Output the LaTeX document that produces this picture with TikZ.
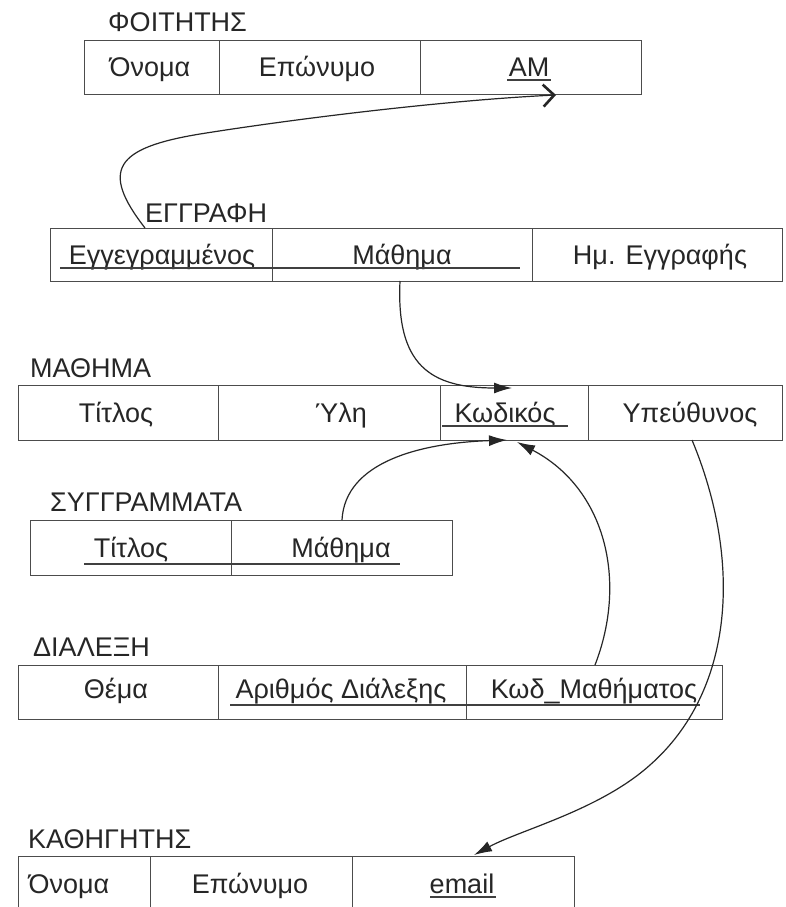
\documentclass[tikz,border=0pt]{standalone}
\usepackage{fontspec}
\setmainfont{Liberation Sans}
\usetikzlibrary{arrows.meta}
\begin{document}
\begin{tikzpicture}[x=1pt,y=-1pt,
  cell/.style={draw=black!70, line width=1.3pt, rectangle, inner sep=0pt, anchor=north west},
  txt/.style={anchor=base, inner sep=0pt, text=black!85, font=\fontsize{27}{32}\selectfont},
  lbl/.style={anchor=base west, inner sep=0pt, text=black!85, font=\fontsize{27}{32}\selectfont},
  uline/.style={draw=black!75, line width=1.3pt},
  link/.style={draw=black!85, line width=1.2pt},
  fk/.style={link, -{Latex[length=18pt,width=11pt]}},
  fkopen/.style={link, -{Straight Barb[length=11pt,width=22pt,line width=2.6pt]}}]
\useasboundingbox (0,0) rectangle (786,907);
\clip (0,0) rectangle (786,907);
\fill[white] (0,0) rectangle (786,907);

% ---------------- ΦΟΙΤΗΤΗΣ
\node[lbl] (lf) at (108,32) {ΦΟΙΤΗΤΗΣ};
\node[cell, minimum width=135pt, minimum height=54pt] (f1) at (84,40) {};
\node[cell, minimum width=201pt, minimum height=54pt] (f2) at (219,40) {};
\node[cell, minimum width=221pt, minimum height=54pt] (f3) at (420,40) {};
\node[txt] (tf1) at (150,76) {Όνομα};
\node[txt] (tf2) at (317,76) {Επώνυμο};
\node[txt] (tf3) at (529,76) {ΑΜ};
\draw[uline] (507,80) -- (551,80);

% ---------------- ΕΓΓΡΑΦΗ
\node[lbl] (le) at (145,222) {ΕΓΓΡΑΦΗ};
\node[cell, minimum width=222pt, minimum height=53pt] (e1) at (50,228) {};
\node[cell, minimum width=260pt, minimum height=53pt] (e2) at (272,228) {};
\node[cell, minimum width=250pt, minimum height=53pt] (e3) at (532,228) {};
\node[txt] (te1) at (162,264) {Εγγεγραμμένος};
\node[txt] (te2) at (402,264) {Μάθημα};
\node[txt] (te3) at (660,264) {Ημ. Εγγραφής};
\draw[uline] (60,268) -- (520,268);

% ---------------- ΜΑΘΗΜΑ
\node[lbl] (lm) at (30,377) {ΜΑΘΗΜΑ};
\node[cell, minimum width=200pt, minimum height=55pt] (m1) at (18,385) {};
\node[cell, minimum width=222pt, minimum height=55pt] (m2) at (218,385) {};
\node[cell, minimum width=148pt, minimum height=55pt] (m3) at (440,385) {};
\node[cell, minimum width=194pt, minimum height=55pt] (m4) at (588,385) {};
\node[txt] (tm1) at (116,422) {Τίτλος};
\node[txt] (tm2) at (341,422) {Ύλη};
\node[txt] (tm3) at (505,422) {Κωδικός};
\node[txt] (tm4) at (690,422) {Υπεύθυνος};
\draw[uline] (442,426) -- (568,426);

% ---------------- ΣΥΓΓΡΑΜΜΑΤΑ
\node[lbl] (ls) at (50,511) {ΣΥΓΓΡΑΜΜΑΤΑ};
\node[cell, minimum width=201pt, minimum height=55pt] (s1) at (30,520) {};
\node[cell, minimum width=221pt, minimum height=55pt] (s2) at (231,520) {};
\node[txt] (ts1) at (131,557) {Τίτλος};
\node[txt] (ts2) at (341,557) {Μάθημα};
\draw[uline] (84,564) -- (400,564);

% ---------------- ΔΙΑΛΕΞΗ
\node[lbl] (ld) at (33,656) {ΔΙΑΛΕΞΗ};
\node[cell, minimum width=200pt, minimum height=54pt] (d1) at (18,665) {};
\node[cell, minimum width=248pt, minimum height=54pt] (d2) at (218,665) {};
\node[cell, minimum width=256pt, minimum height=54pt] (d3) at (466,665) {};
\node[txt] (td1) at (116,698) {Θέμα};
\node[txt] (td2) at (341,698) {Αριθμός Διάλεξης};
\node[txt] (td3) at (594,698) {Κωδ\_Μαθήματος};
\draw[uline] (230,705) -- (700,705);

% ---------------- ΚΑΘΗΓΗΤΗΣ
\node[lbl] (lk) at (28,848) {ΚΑΘΗΓΗΤΗΣ};
\node[cell, minimum width=132pt, minimum height=62pt] (k1) at (18,856) {};
\node[cell, minimum width=202pt, minimum height=62pt] (k2) at (150,856) {};
\node[cell, minimum width=222pt, minimum height=62pt] (k3) at (352,856) {};
\node[txt] (tk1) at (69,893) {Όνομα};
\node[txt] (tk2) at (250,893) {Επώνυμο};
\node[txt] (tk3) at (462,893) {email};
\draw[uline] (430,897) -- (496,897);

% ---------------- connectors
\coordinate (a1s) at (145,228);
\coordinate (a1t) at (556,95);
\draw[fkopen] (a1s) .. controls (100,170) and (115,148) .. (200,134)
  .. controls (300,118) and (450,100) .. (a1t);

\coordinate (a2s) at (400,281);
\coordinate (a2t) at (512,388);
\draw[fk] (a2s) .. controls (396,365) and (430,388) .. (a2t);

\coordinate (a3s) at (342,520);
\coordinate (a3t) at (507,440);
\draw[fk] (a3s) .. controls (345,462) and (420,443) .. (a3t);

\coordinate (a4s) at (595,665);
\coordinate (a4t) at (517,442);
\draw[fk] (a4s) .. controls (628,580) and (605,488) .. (a4t);

\coordinate (a5s) at (692,440);
\coordinate (a5t) at (474,855);
\draw[fk] (a5s) .. controls (742,560) and (735,690) .. (650,765)
  .. controls (600,810) and (520,830) .. (a5t);
\end{tikzpicture}
\end{document}
